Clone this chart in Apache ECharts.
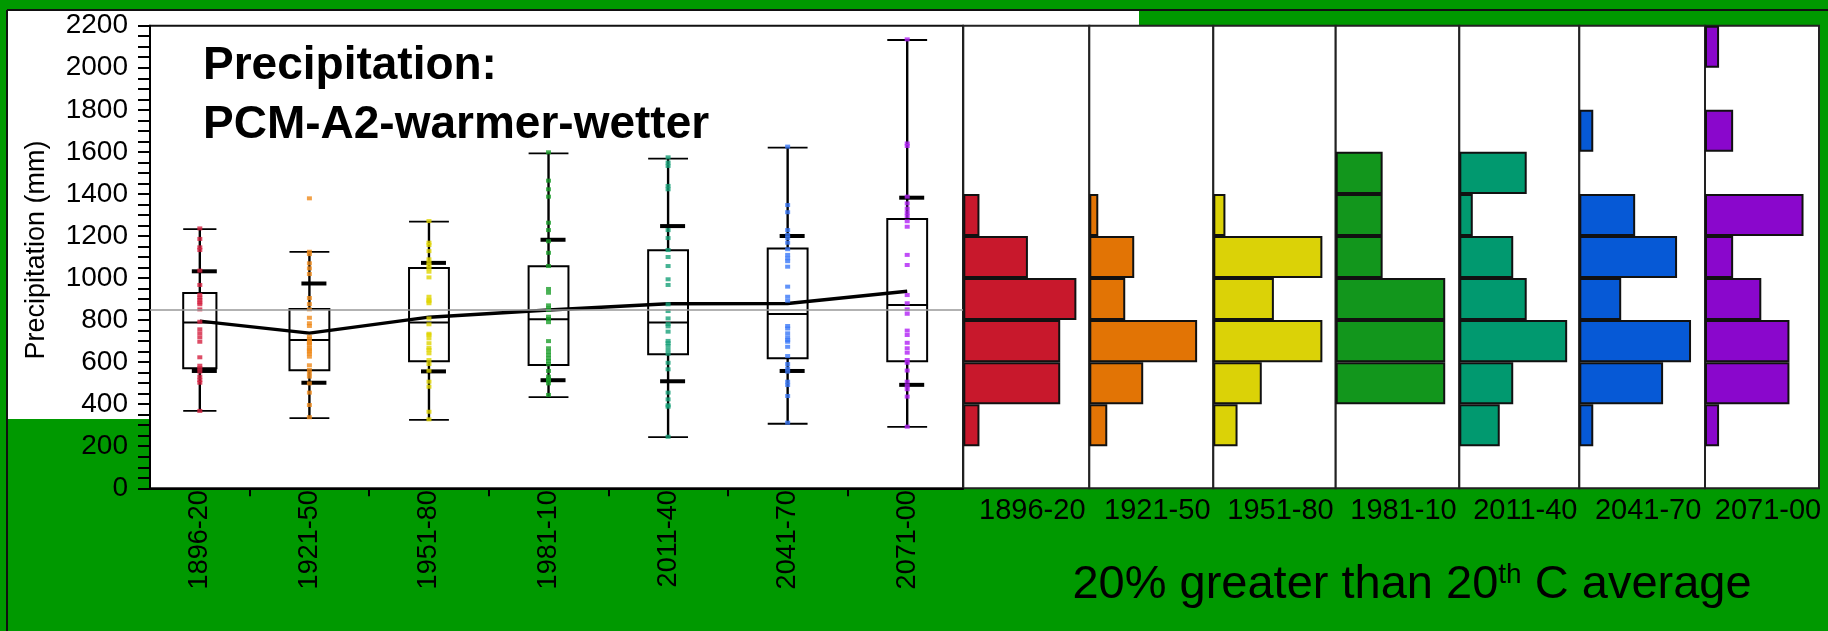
<!DOCTYPE html>
<html><head><meta charset="utf-8">
<script src="https://cdn.jsdelivr.net/npm/echarts@6/dist/echarts.min.js"></script>
<style>html,body{margin:0;padding:0;background:#009900}#c{width:1828px;height:631px}</style>
</head><body><div id="c"></div>
<script>
// ---------- data ----------
const periods = ['1896-20','1921-50','1951-80','1981-10','2011-40','2041-70','2071-00'];
const periodStart = [1896,1921,1951,1981,2011,2041,2071];
const periodEnd   = [1920,1950,1980,2010,2040,2070,2100];
const yTicks = [0,200,400,600,800,1000,1200,1400,1600,1800,2000,2200];

const whiskerLow  = [368, 334, 325, 434, 243, 307, 292];
const quart1      = [571, 561, 604, 586, 637, 618, 604];
const medianVal   = [788, 705, 788, 804, 788, 829, 872];
const quart3      = [929, 853, 1048, 1056, 1132, 1140, 1281];
const whiskerHigh = [1233, 1124, 1268, 1593, 1568, 1620, 2132];
const meanVal     = [795, 738, 814, 848, 878, 879, 937];
const sdVal       = [237, 236, 258, 334, 369, 321, 445];
const referenceAvg = 848;

const years1896 = [1236,1186,1146,1133,1035,967,920,907,896,884,875,851,792,756,737,718,697,623,583,571,555,531,515,502,368];
const years1921 = [1379,1125,1114,1070,1046,1019,905,876,851,811,785,772,721,710,697,690,681,666,660,650,640,626,585,563,547,531,499,455,396,338];
const years1951 = [1271,1168,1157,1128,1089,1073,1060,1046,1030,1003,911,896,890,880,808,780,735,729,713,690,668,658,642,610,591,559,507,483,364,328];
const years1981 = [1598,1463,1422,1387,1263,1228,1175,1120,1057,948,930,870,856,848,816,805,790,700,666,650,634,618,605,590,558,531,520,512,499,444];
const years2011 = [1574,1549,1533,1438,1422,1228,1190,1133,1100,1057,994,967,875,843,808,781,770,745,701,690,677,658,640,597,566,455,423,395,388,245];
const years2041 = [1625,1347,1313,1228,1205,1190,1168,1137,1110,1094,1080,1054,959,911,892,772,760,737,718,705,697,673,629,591,570,555,507,491,439,312];
const years2071 = [2135,1640,1628,1387,1355,1330,1311,1295,1270,1244,1110,1062,919,880,851,830,750,729,692,666,645,610,597,560,507,487,471,436,293];
const yearValues = [years1896, years1921, years1951, years1981, years2011, years2041, years2071];

const bins = ['0-200','200-400','400-600','600-800','800-1000','1000-1200','1200-1400','1400-1600','1600-1800','1800-2000','2000-2200'];
const hist1896 = [0,1,6,6,7,4,1,0,0,0,0];
const hist1921 = [0,2,6,12,4,5,1,0,0,0,0];
const hist1951 = [0,2,4,9,5,9,1,0,0,0,0];
const hist1981 = [0,0,7,7,7,3,3,3,0,0,0];
const hist2011 = [0,3,4,8,5,4,1,5,0,0,0];
const hist2041 = [0,1,6,8,3,7,4,0,1,0,0];
const hist2071 = [0,1,6,6,4,2,7,0,2,0,1];
const histCounts = [hist1896, hist1921, hist1951, hist1981, hist2011, hist2041, hist2071];

// ---------- styles / layout ----------
const FONT = 'Liberation Sans, Arial, sans-serif';
const histColors = ['#c8182c','#e27405','#dbd207','#12961c','#01996f','#0659d6','#8a07cc'];
const dotColors  = ['#d42040','#ef8a1a','#e0d400','#1b9e2b','#16a078','#3a78f8','#b021f5'];
const plotTop = 25.7, plotH = 462.6;
const panelLeft = [963.3, 1089.3, 1213.3, 1335.7, 1459.3, 1579.3, 1705, 1819];
const histMax = [7.8, 13.8, 10.1, 7.9, 8.9, 9.0, 8.1];

const mids = periodStart.map((s,i)=>(s + periodEnd[i])/2);
const edges = periodEnd.slice(0,6).map(e=>e+0.5);

const grids = [{left:150, top:plotTop, width:813, height:plotH, show:true, backgroundColor:'#fff', borderColor:'#111', borderWidth:2}];
const xAxes = [{
  gridIndex:0, type:'value', min:1895.5, max:2099.5,
  axisLine:{show:true, lineStyle:{color:'#000', width:2}},
  axisTick:{show:true, customValues:edges, length:8, lineStyle:{color:'#000', width:2}},
  axisLabel:{show:true, customValues:mids, rotate:90, margin:2, fontSize:27, color:'#000', fontFamily:FONT,
    formatter:v=>{const k=mids.indexOf(v); return k>=0?periods[k]:'';}},
  splitLine:{show:false}
}];
const yAxes = [{
  gridIndex:0, type:'value', min:yTicks[0], max:yTicks[yTicks.length-1], interval:200,
  axisLine:{show:true, lineStyle:{color:'#000', width:2}},
  axisTick:{show:true, length:12, lineStyle:{color:'#000', width:2}},
  minorTick:{show:true, splitNumber:4, length:12, lineStyle:{color:'#000', width:2}},
  splitLine:{show:false}, minorSplitLine:{show:false},
  axisLabel:{fontSize:28, color:'#000', margin:22, fontFamily:FONT, formatter:v=>String(v)},
  name:'Precipitation (mm)', nameLocation:'middle', nameGap:100,
  nameTextStyle:{fontSize:27, color:'#000', fontFamily:FONT, padding:[0,0,0,14]}
}];
const series = [];

// boxes
series.push({
  type:'custom', xAxisIndex:0, yAxisIndex:0, z:2,
  data: periods.map((p,i)=>[mids[i], whiskerLow[i], quart1[i], medianVal[i], quart3[i], whiskerHigh[i], meanVal[i], sdVal[i], periodEnd[i]-periodStart[i]+1]),
  renderItem:function(params, api){
    const x = api.value(0);
    const bw = api.size([api.value(8)/3, 0])[0];
    const cx = api.coord([x, 0])[0];
    const y = k => api.coord([x, api.value(k)])[1];
    const yl=y(1), yq1=y(2), ym=y(3), yq3=y(4), yh=y(5);
    const mean=api.value(6), sd=api.value(7);
    const ysu = api.coord([x, mean+sd])[1], ysl = api.coord([x, mean-sd])[1];
    const L=(x1,y1,x2,y2,w)=>({type:'line', shape:{x1,y1,x2,y2}, style:{stroke:'#000', lineWidth:w}});
    return {type:'group', children:[
      L(cx,yh,cx,yq3,2.4), L(cx,yq1,cx,yl,2.4),
      L(cx-bw/2,yh,cx+bw/2,yh,1.8), L(cx-bw/2,yl,cx+bw/2,yl,1.8),
      {type:'rect', shape:{x:cx-bw/2, y:yq3, width:bw, height:yq1-yq3}, style:{fill:'none', stroke:'#000', lineWidth:2}},
      L(cx-bw/2,ym,cx+bw/2,ym,2),
      L(cx-8,ysu,cx+17,ysu,4), L(cx-8,ysl,cx+17,ysl,4)
    ]};
  }
});
// mean line + reference average
series.push({
  type:'line', xAxisIndex:0, yAxisIndex:0, z:3, symbol:'none',
  data: mids.map((m,i)=>[m, meanVal[i]]),
  lineStyle:{color:'#000', width:3.5},
  markLine:{silent:true, symbol:['none','none'], label:{show:false},
    lineStyle:{color:'#999', width:1.5, type:'solid'}, data:[{yAxis:referenceAvg}]}
});
// individual years
yearValues.forEach((arr,i)=>{
  series.push({type:'scatter', xAxisIndex:0, yAxisIndex:0, z:4, symbol:'rect', symbolSize:[5,4],
    itemStyle:{color:dotColors[i]}, data:arr.map(v=>[mids[i], v])});
});
// histograms
periods.forEach((p,i)=>{
  grids.push({left:panelLeft[i], top:plotTop, width:panelLeft[i+1]-panelLeft[i], height:plotH,
    show:true, backgroundColor:'#fff', borderColor:'#222', borderWidth:2});
  xAxes.push({gridIndex:i+1, type:'value', min:0, max:histMax[i],
    axisLine:{show:false}, axisTick:{show:false}, axisLabel:{show:false}, splitLine:{show:false},
    name:p, nameLocation:'middle', nameGap:8,
    nameTextStyle:{fontSize:29, color:'#000', fontFamily:FONT, padding:[0,0,0,12]}});
  yAxes.push({gridIndex:i+1, type:'category', data:bins, show:false});
  series.push({type:'bar', xAxisIndex:i+1, yAxisIndex:i+1, barWidth:'100%',
    data:histCounts[i].map(c=>c===0?'-':c),
    itemStyle:{color:histColors[i], borderColor:'#111', borderWidth:2}});
});

const chart = echarts.init(document.getElementById('c'), null, {renderer:'canvas'});
chart.setOption({
  animation:false,
  backgroundColor:'#009900',
  title:{text:'Precipitation:\nPCM-A2-warmer-wetter', left:203, top:37, padding:0,
    textStyle:{fontSize:46, fontWeight:'bold', lineHeight:59, color:'#000', fontFamily:FONT}},
  grid:grids, xAxis:xAxes, yAxis:yAxes, series:series,
  graphic:[
    {type:'rect', z:-10, shape:{x:7, y:10, width:1132, height:16}, style:{fill:'#fff'}},
    {type:'rect', z:-10, shape:{x:7, y:10, width:143, height:409}, style:{fill:'#fff'}},
    {type:'line', shape:{x1:7, y1:10, x2:1828, y2:10}, style:{stroke:'#111', lineWidth:2}},
    {type:'line', shape:{x1:7, y1:10, x2:7, y2:631}, style:{stroke:'#111', lineWidth:2}},
    {type:'text', x:1412, y:585, style:{
      text:'{m|20% greater than 20}{s|th}{m| C average}', align:'center', verticalAlign:'middle',
      rich:{m:{fontSize:47, fontFamily:FONT, fill:'#000'}, s:{fontSize:28, fontFamily:FONT, fill:'#000', verticalAlign:'top'}}}}
  ]
});
</script></body></html>
